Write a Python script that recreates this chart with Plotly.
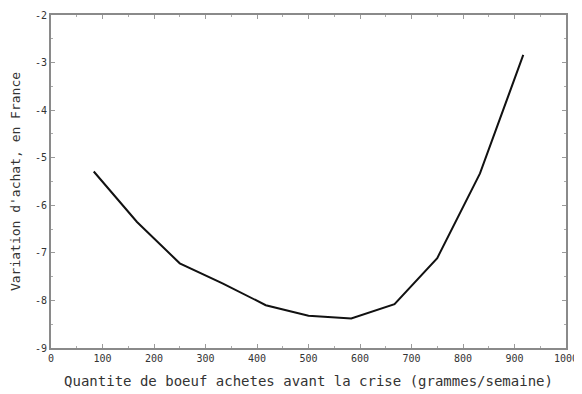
import plotly.graph_objects as go

quantite = [83, 167, 250, 333, 417, 500, 583, 667, 750, 833, 917]
variation = [-5.29, -6.35, -7.22, -7.64, -8.10, -8.32, -8.38, -8.08, -7.11, -5.33, -2.84]

x_ticks = [0, 100, 200, 300, 400, 500, 600, 700, 800, 900, 1000]
y_ticks = [-9, -8, -7, -6, -5, -4, -3, -2]

FONT = "DejaVu Sans Mono, Liberation Mono, monospace"

fig = go.Figure()
fig.add_trace(go.Scatter(x=quantite, y=variation, mode="lines",
                         line=dict(color="#111111", width=2), showlegend=False))

axis_common = dict(
    showgrid=False, zeroline=False, showline=True, linecolor="#8a8a8a", linewidth=2,
    mirror="ticks", ticks="inside", ticklen=4, tickwidth=1, tickcolor="#9a9a9a",
    tickfont=dict(family=FONT, size=10, color="#333333"),
    automargin=False,
)
fig.update_xaxes(range=[0, 1000], tickvals=x_ticks, ticktext=[str(v) for v in x_ticks],
                 minor=dict(dtick=50, ticks="inside", ticklen=2, tickcolor="#aaaaaa"),
                 title=dict(text="Quantite de boeuf achetes avant la crise (grammes/semaine)",
                            font=dict(family=FONT, size=14, color="#333333"),
                            standoff=13),
                 **axis_common)
fig.update_yaxes(range=[-9, -2], tickvals=y_ticks, ticktext=[str(v) for v in y_ticks],
                 minor=dict(dtick=0.5, ticks="inside", ticklen=2, tickcolor="#aaaaaa"),
                 title=dict(text="Variation d'achat, en France",
                            font=dict(family=FONT, size=13, color="#333333"),
                            standoff=20),
                 **axis_common)
fig.update_layout(width=574, height=386, margin=dict(l=43, r=16, t=7, b=46, autoexpand=False),
                  plot_bgcolor="white", paper_bgcolor="white")
fig.write_html("out.html")
